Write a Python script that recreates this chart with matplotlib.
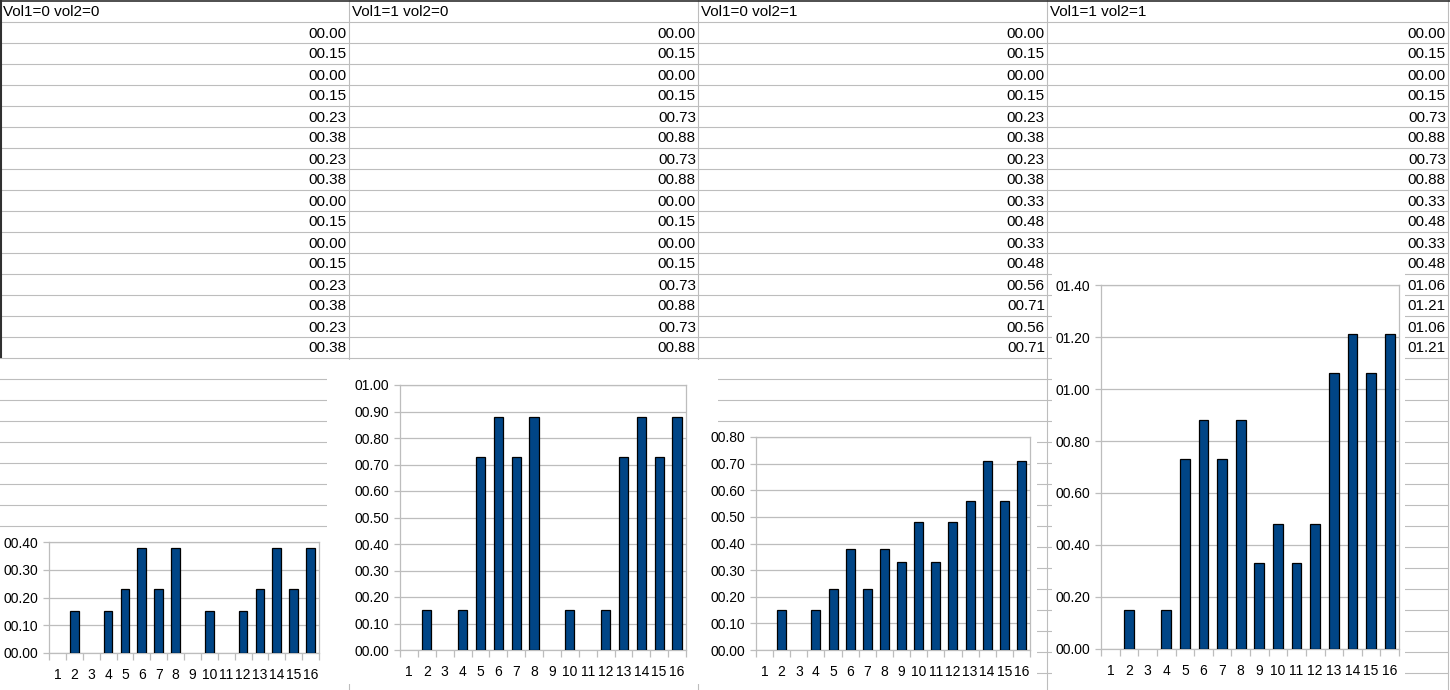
import matplotlib
matplotlib.use("Agg")
import matplotlib.pyplot as plt
from matplotlib.patches import Rectangle

W = 1450
H = 690

headers = ["Vol1=0 vol2=0", "Vol1=1 vol2=0", "Vol1=0 vol2=1", "Vol1=1 vol2=1"]
categories = list(range(1, 17))
vol00 = [0.00, 0.15, 0.00, 0.15, 0.23, 0.38, 0.23, 0.38, 0.00, 0.15, 0.00, 0.15, 0.23, 0.38, 0.23, 0.38]
vol10 = [0.00, 0.15, 0.00, 0.15, 0.73, 0.88, 0.73, 0.88, 0.00, 0.15, 0.00, 0.15, 0.73, 0.88, 0.73, 0.88]
vol01 = [0.00, 0.15, 0.00, 0.15, 0.23, 0.38, 0.23, 0.38, 0.33, 0.48, 0.33, 0.48, 0.56, 0.71, 0.56, 0.71]
vol11 = [0.00, 0.15, 0.00, 0.15, 0.73, 0.88, 0.73, 0.88, 0.33, 0.48, 0.33, 0.48, 1.06, 1.21, 1.06, 1.21]
columns = [vol00, vol10, vol01, vol11]

# y axis maximum and step of each chart
y_max = [0.4, 1.0, 0.8, 1.4]
y_step = [0.1, 0.1, 0.1, 0.2]

GRID = "#bdbdbd"
BAR = "#004586"
ROW_H = 21
col_edges = [0, 349, 698, 1047, 1448]

# chart background boxes and plot areas in pixels (left, top, right, bottom)
chart_boxes = [(0, 530, 327, 690), (327, 360, 718, 684), (718, 424, 1037, 690), (1052, 258, 1405, 690)]
plot_areas = [(49, 542, 319, 653), (400, 385, 686, 650), (756, 437, 1030, 650), (1101, 285, 1399, 649)]

plt.rcParams['font.family'] = ['Liberation Sans', 'DejaVu Sans']

def fmt(v):
	return "%05.2f" % v

def toFig(box):
	l, t, r, b = box
	return [l / W, 1 - b / H, (r - l) / W, (b - t) / H]

fig = plt.figure(figsize=(W / 100, H / 100), dpi=100)
sheet = fig.add_axes([0, 0, 1, 1])
sheet.set_xlim(0, W)
sheet.set_ylim(H, 0)
sheet.axis("off")

# cell grid
y = ROW_H
while y < H:
	sheet.plot([0, col_edges[-1]], [y + 0.5, y + 0.5], color=GRID, lw=0.8, zorder=1)
	y += ROW_H
for x in col_edges[1:]:
	sheet.plot([x + 0.5, x + 0.5], [0, H], color=GRID, lw=0.8, zorder=1)
sheet.plot([1, 1], [0, 17 * ROW_H], color="#303030", lw=1.5, zorder=3)
sheet.plot([0, W], [0.5, 0.5], color="#303030", lw=1.2, zorder=3)

# cell texts
for i, name in enumerate(headers):
	sheet.text(col_edges[i] + 3, ROW_H / 2 + 1, name, fontsize=11, ha="left", va="center", zorder=2)
	for j, v in enumerate(columns[i]):
		sheet.text(col_edges[i + 1] - 2, ROW_H * (j + 1.5) + 2, fmt(v), fontsize=11,
			ha="right", va="center", zorder=2)

# chart backgrounds
for box in chart_boxes:
	l, t, r, b = box
	sheet.add_patch(Rectangle((l, t), r - l, b - t, facecolor="white", edgecolor="none", zorder=5))

# charts
for i in range(4):
	ax = fig.add_axes(toFig(plot_areas[i]))
	edges = ["black" if v > 0 else "none" for v in columns[i]]
	ax.bar(categories, columns[i], width=0.52, color=BAR, edgecolor=edges, linewidth=0.9, zorder=3)
	ax.set_xlim(0.5, 16.5)
	ax.set_ylim(0, y_max[i])
	n = int(round(y_max[i] / y_step[i]))
	ticks = [k * y_step[i] for k in range(n + 1)]
	ax.set_yticks(ticks)
	ax.set_yticklabels([fmt(t) for t in ticks])
	ax.yaxis.grid(True, color=GRID, lw=0.9, zorder=0)
	ax.set_axisbelow(True)
	ax.set_xticks([k + 0.5 for k in range(17)])
	ax.set_xticklabels([])
	ax.set_xticks(categories, minor=True)
	ax.set_xticklabels([str(c) for c in categories], minor=True)
	ax.tick_params(axis="x", which="major", length=5, color=GRID, width=0.9)
	ax.tick_params(axis="x", which="minor", length=0, pad=11, labelsize=10)
	ax.tick_params(axis="y", length=4, color=GRID, width=0.9, pad=4, labelsize=10)
	for s in ax.spines.values():
		s.set_color(GRID)
		s.set_linewidth(0.9)

fig.savefig("out.png", dpi=100)
